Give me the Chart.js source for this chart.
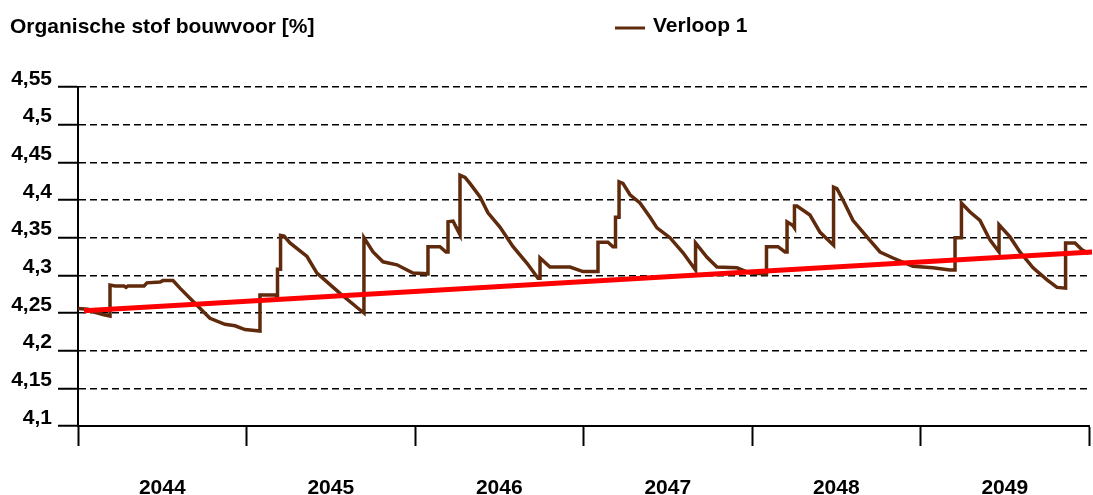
<html>
<head>
<script src="https://cdn.jsdelivr.net/npm/chart.js@4.4.1/dist/chart.umd.min.js"></script>
<style>
body { margin: 0; background: #ffffff; }
</style>
</head>
<body>
<canvas id="lineChart" width="1093" height="495"></canvas>
<script>
// x values are years counted from 1 Jan 2044
var years = ['2044', '2045', '2046', '2047', '2048', '2049'];
var verloopX = [0, 0.059, 0.101, 0.148, 0.190, 0.190, 0.220, 0.273, 0.285, 0.297, 0.392, 0.409, 0.487, 0.504, 0.564,
  0.605, 0.694, 0.783, 0.872, 0.932, 0.991, 1.080, 1.080, 1.169, 1.184, 1.184, 1.202, 1.202, 1.223, 1.258, 1.359,
  1.418, 1.555, 1.685, 1.697, 1.697, 1.751, 1.810, 1.893, 1.988, 2.077, 2.077, 2.148, 2.184, 2.196, 2.196, 2.226,
  2.267, 2.267, 2.297, 2.326, 2.386, 2.433, 2.504, 2.582, 2.665, 2.730, 2.742, 2.742, 2.801, 2.920, 2.997, 3.086,
  3.086, 3.145, 3.175, 3.190, 3.190, 3.211, 3.211, 3.234, 3.276, 3.335, 3.395, 3.436, 3.513, 3.591, 3.665, 3.665,
  3.733, 3.792, 3.911, 3.988, 4.086, 4.086, 4.154, 4.196, 4.208, 4.208, 4.243, 4.252, 4.252, 4.267, 4.344, 4.404,
  4.484, 4.484, 4.504, 4.540, 4.599, 4.682, 4.760, 4.837, 4.955, 5.074, 5.175, 5.205, 5.205, 5.243, 5.243, 5.294,
  5.353, 5.412, 5.466, 5.466, 5.531, 5.590, 5.668, 5.751, 5.810, 5.861, 5.861, 5.917, 5.958, 6.0];
var verloopY = [4.256, 4.255, 4.251, 4.248, 4.246, 4.287, 4.286, 4.286, 4.284, 4.286, 4.286, 4.290, 4.291, 4.293, 4.293,
  4.283, 4.263, 4.243, 4.235, 4.233, 4.228, 4.226, 4.274, 4.274, 4.272, 4.308, 4.308, 4.353, 4.352, 4.343, 4.325,
  4.303, 4.276, 4.252, 4.250, 4.350, 4.331, 4.318, 4.314, 4.303, 4.302, 4.338, 4.338, 4.331, 4.331, 4.371, 4.372,
  4.354, 4.433, 4.430, 4.422, 4.404, 4.383, 4.364, 4.338, 4.316, 4.296, 4.296, 4.323, 4.311, 4.311, 4.305, 4.305,
  4.344, 4.344, 4.338, 4.338, 4.377, 4.377, 4.424, 4.422, 4.407, 4.396, 4.377, 4.363, 4.350, 4.330, 4.307, 4.343,
  4.324, 4.311, 4.310, 4.303, 4.302, 4.338, 4.338, 4.331, 4.331, 4.371, 4.366, 4.363, 4.392, 4.392, 4.380, 4.357,
  4.340, 4.417, 4.415, 4.400, 4.373, 4.351, 4.331, 4.323, 4.312, 4.310, 4.307, 4.307, 4.350, 4.350, 4.396, 4.384,
  4.373, 4.347, 4.331, 4.367, 4.351, 4.331, 4.310, 4.294, 4.284, 4.283, 4.343, 4.343, 4.334, 4.329];
var trendX = [0.036, 6.018];
var trendY = [4.253, 4.331];

var fontFam = "'Liberation Sans', Arial, sans-serif";

function toPoints(xs, ys) {
  var pts = [];
  for (var i = 0; i < xs.length; i++) pts.push({x: xs[i], y: ys[i]});
  return pts;
}

// title and legend sit on one line, so draw them ourselves
var headerPlugin = {
  id: 'header',
  afterDraw: function(chart) {
    var ctx = chart.ctx;
    ctx.save();
    ctx.font = 'bold 21px ' + fontFam;
    ctx.fillStyle = '#000000';
    ctx.textBaseline = 'alphabetic';
    ctx.fillText('Organische stof bouwvoor [%]', 10, 33);
    var ds = chart.data.datasets[1];
    ctx.strokeStyle = ds.borderColor;
    ctx.lineWidth = 3;
    ctx.beginPath();
    ctx.moveTo(615, 28);
    ctx.lineTo(645, 28);
    ctx.stroke();
    ctx.fillText(ds.label, 653, 32);
    ctx.restore();
  }
};

var ctxL = document.getElementById('lineChart').getContext('2d');
var myChart = new Chart(ctxL, {
  type: 'line',
  data: {
    datasets: [{
      label: 'Trend',
      data: toPoints(trendX, trendY),
      borderColor: '#ff0000',
      borderWidth: 5,
      pointRadius: 0,
      clip: false,
      order: 0
    }, {
      label: 'Verloop 1',
      data: toPoints(verloopX, verloopY),
      borderColor: '#602a0c',
      borderWidth: 3.5,
      pointRadius: 0,
      tension: 0,
      order: 1
    }]
  },
  options: {
    responsive: false,
    animation: false,
    layout: { padding: { top: 87, right: 4, left: 0, bottom: 0 } },
    plugins: {
      legend: { display: false },
      title: { display: false },
      tooltip: { enabled: false }
    },
    scales: {
      x: {
        type: 'linear',
        position: 'bottom',
        weight: 0,
        min: 0,
        max: 6,
        ticks: { stepSize: 1, display: false },
        grid: { drawOnChartArea: false, tickLength: 20, tickWidth: 2, tickColor: '#000000' },
        border: { color: '#000000', width: 2 },
        afterFit: function(s) { s.height = 20; }
      },
      x2: {
        type: 'category',
        position: 'bottom',
        weight: 1,
        labels: years,
        offset: true,
        grid: { display: false, drawTicks: false },
        border: { display: false },
        ticks: { color: '#000000', padding: 30, font: { family: fontFam, size: 21, weight: 'bold' } },
        afterFit: function(s) { s.height = 49; }
      },
      y: {
        min: 4.1,
        max: 4.55,
        ticks: {
          stepSize: 0.05,
          color: '#000000',
          padding: 6,
          labelOffset: -8,
          font: { family: fontFam, size: 21, weight: 'bold' },
          callback: function(v) { return Number(v.toFixed(2)).toString().replace('.', ','); }
        },
        grid: { color: '#000000', lineWidth: 1.5, tickLength: 20, tickWidth: 2, tickColor: '#000000' },
        border: { color: '#000000', width: 2, dash: [7, 4] },
        afterFit: function(s) { s.width = 78; }
      }
    }
  },
  plugins: [headerPlugin]
});
</script>
</body>
</html>
